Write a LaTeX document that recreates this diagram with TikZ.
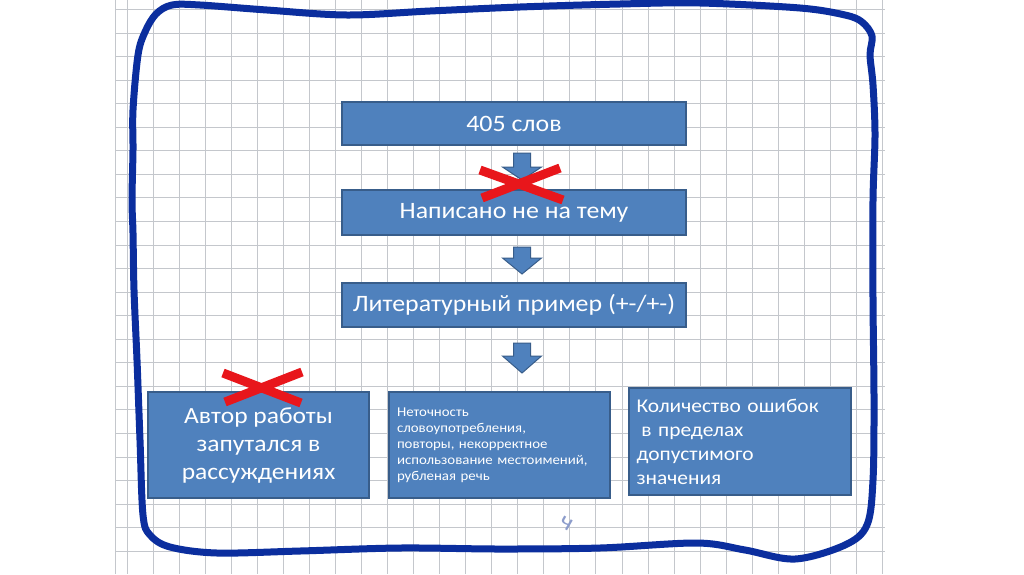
\documentclass[tikz,border=0pt]{standalone}
\usepackage{fontspec}
\setmainfont{Carlito}[FakeStretch=1.1]
\definecolor{boxfill}{HTML}{4F81BD}
\definecolor{boxline}{HTML}{385D8A}
\definecolor{gridc}{HTML}{C4C7CC}
\definecolor{pen}{HTML}{0B2E9E}
\definecolor{xred}{HTML}{E8161B}
\definecolor{pencil}{HTML}{8C9CCB}
\tikzset{
  gridline/.style={draw=gridc, line width=0.9pt},
  box/.style={draw=boxline, fill=boxfill, line width=1.3pt, text=white, inner sep=4pt},
  barrowstyle/.style={draw=boxline, fill=boxfill, line width=1pt, line join=miter},
  redx/.style={draw=xred, line width=9pt, line cap=butt},
  border/.style={draw=pen, line width=7pt, line join=round}
}
\newcommand\barrow[4]{% x, top, neck, tip
  \draw[barrowstyle] ({#1-8.5},#2) -- ({#1+8.5},#2) -- ({#1+8.5},#3) -- ({#1+19.5},#3)
    -- (#1,#4) -- ({#1-19.5},#3) -- ({#1-8.5},#3) -- cycle;}
\begin{document}
\begin{tikzpicture}[x=1pt,y=-1pt]
\useasboundingbox (0,0) rectangle (1024,574);
\fill[white] (0,0) rectangle (1024,574);
% squared paper
\draw[gridline] (115,0) -- (115,574);
\foreach \i in {0,...,29} \draw[gridline] ({127+26.05*\i},0) -- ({127+26.05*\i},574);
\foreach \j in {0,...,23} \draw[gridline] (115,{9.5+23.55*\j}) -- (885,{9.5+23.55*\j});
% hand-drawn frame
\draw[border] plot[smooth cycle, tension=0.55] coordinates {
 (133,110) (138,55) (145,32) (156,14) (172,5) (200,5) (267,10) (347,15) (430,11)
 (520,7) (620,4) (700,3) (800,8) (845,15) (862,22) (872,36) (870,55) (873,85)
 (875,135) (873,200) (873,300) (874,400) (873,480) (867,525) (845,545) (795,559)
 (745,550) (697,543) (600,548) (500,549) (400,548) (300,551) (217,553) (170,547)
 (150,535) (143,515) (140,440) (137,360) (134,290) (133,233) (132,200) (133,150)};
% boxes
\node[box, minimum width=344pt, minimum height=43pt, font=\fontsize{23.5}{26}\selectfont] (b1) at (514,123.5) {405 слов};
\node[box, minimum width=344pt, minimum height=45pt, font=\fontsize{23.5}{26}\selectfont] (b2) at (514,212.5) {Написано не на тему};
\node[box, minimum width=344pt, minimum height=44pt, font=\fontsize{23.5}{26}\selectfont] (b3) at (514,305) {Литературный пример (+-/+-)};
\node[box, minimum width=221pt, minimum height=106pt, align=center, font=\fontsize{23.2}{28}\selectfont] (b4) at (258.5,445) {Автор работы\\запутался в\\рассуждениях};
\node[box, minimum width=221pt, minimum height=106pt, text width=205pt, align=left, font=\fontsize{13.5}{16}\selectfont] (b5) at (499.5,445) {Неточность\\словоупотребления,\\повторы, некорректное\\использование местоимений,\\рубленая речь};
\node[box, minimum width=222pt, minimum height=107pt, text width=207pt, align=left, font=\fontsize{19.5}{24}\selectfont] (b6) at (740,441.5) {Количество ошибок\\\hspace*{0.25em}в пределах\\допустимого\\значения};
% block arrows
\barrow{522}{153}{167}{180}
\barrow{522}{247}{258}{274}
\barrow{522}{343}{356}{373}
% red crosses
\draw[redx] (480,170) -- (563,200);
\draw[redx] (560,168) -- (482,198);
\draw[redx] (223,373) -- (301,403);
\draw[redx] (302,372) -- (225,402);
% pencil mark
\node[text=pencil, rotate=-30, font=\fontsize{24}{24}\selectfont] (mark) at (566,524) {ч};
\end{tikzpicture}
\end{document}
